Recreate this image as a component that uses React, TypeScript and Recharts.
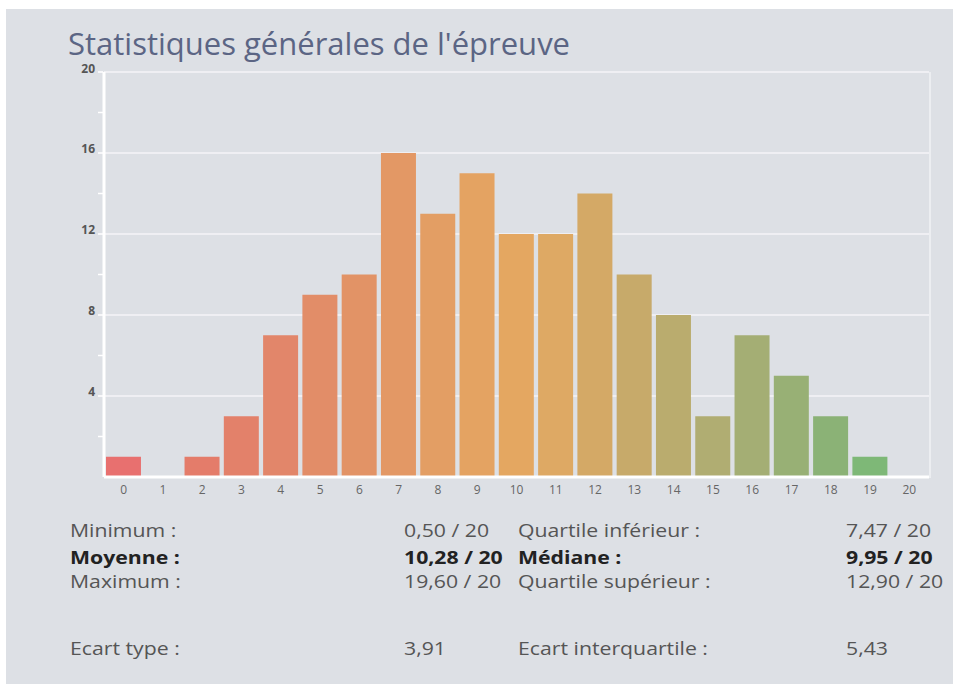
import React from 'react';
import { BarChart, Bar, XAxis, YAxis, CartesianGrid, Cell } from 'recharts';

const notes = ['0', '1', '2', '3', '4', '5', '6', '7', '8', '9', '10', '11', '12', '13', '14', '15', '16', '17', '18', '19', '20'];
const effectifs = [1, 0, 1, 3, 7, 9, 10, 16, 13, 15, 12, 12, 14, 10, 8, 3, 7, 5, 3, 1, 0];
const barColors = [
  '#e8706f', '#e6766c', '#e47c6a', '#e3816a', '#e2866a', '#e28d68', '#e29366',
  '#e39865', '#e39e64', '#e4a362', '#e4a761', '#dea964', '#d4a966', '#c7aa6a',
  '#baac6e', '#b0ad72', '#a4ae74', '#98b075', '#8bb276', '#7eb877', '#7eb877',
];
const yTicks = [2, 4, 6, 8, 10, 12, 14, 16, 18, 20];
const gridValues = [4, 8, 12, 16, 20];

const statsLeft = [
  { label: 'Minimum :', value: '0,50 / 20', bold: false },
  { label: 'Moyenne :', value: '10,28 / 20', bold: true },
  { label: 'Maximum :', value: '19,60 / 20', bold: false },
  { label: 'Ecart type :', value: '3,91', bold: false },
];
const statsRight = [
  { label: 'Quartile inférieur :', value: '7,47 / 20', bold: false },
  { label: 'Médiane :', value: '9,95 / 20', bold: true },
  { label: 'Quartile supérieur :', value: '12,90 / 20', bold: false },
  { label: 'Ecart interquartile :', value: '5,43', bold: false },
];
const rowTops = [518, 545, 569, 636];

const data = notes.map((n, i) => ({ note: n, effectif: effectifs[i] }));

const font = '"Open Sans", "Noto Sans", sans-serif';

const YTick = (props: any) => {
  const { x, y, payload } = props;
  const major = payload.value % 4 === 0;
  return (
    <g>
      <line x1={x + 2} x2={x + 7} y1={y} y2={y} stroke="#ffffff" strokeWidth={1.5} />
      {major && (
        <text x={x - 1} y={y} dy={payload.value === 20 ? 1 : 0} textAnchor="end" fill="#555" fontSize={12} fontWeight={700} fontFamily={font}>
          {payload.value}
        </text>
      )}
    </g>
  );
};

const StatText = ({ left, top, text, bold }: { left: number; top: number; text: string; bold: boolean }) => (
  <div
    style={{
      position: 'absolute',
      left,
      top,
      fontFamily: font,
      fontSize: 18,
      color: bold ? '#222' : '#555',
      fontWeight: bold ? 700 : 400,
      whiteSpace: 'nowrap',
      transform: 'scaleX(1.18)',
      transformOrigin: 'left center',
    }}
  >
    {text}
  </div>
);

export default function App() {
  return (
    <div style={{ position: 'absolute', left: 0, top: 0, width: 953, height: 684, background: '#ffffff', overflow: 'hidden' }}>
      <div style={{ position: 'absolute', left: 6, top: 9, width: 947, height: 675, background: '#dde0e5' }} />
      <div
        style={{
          position: 'absolute',
          left: 68,
          top: 30,
          fontFamily: font,
          fontSize: 31,
          lineHeight: '26px',
          color: '#5b6584',
          whiteSpace: 'nowrap',
        }}
      >
        Statistiques générales de l'épreuve
      </div>
      <div style={{ position: 'absolute', left: 0, top: 0 }}>
        <BarChart
          width={953}
          height={505}
          data={data}
          margin={{ top: 72, right: 24, left: 74, bottom: 0 }}
          barCategoryGap="5%"
        >
          <CartesianGrid
            vertical={false}
            horizontalValues={gridValues}
            stroke="#f4f5f7"
            strokeWidth={1.5}
          />
          <XAxis
            dataKey="note"
            axisLine={{ stroke: '#ffffff', strokeWidth: 3 }}
            tickLine={false}
            tick={{ fill: '#666', fontSize: 12, fontFamily: font }}
            height={28}
            interval={0}
          />
          <YAxis
            domain={[0, 20]}
            ticks={yTicks}
            width={30}
            axisLine={{ stroke: '#ffffff', strokeWidth: 3 }}
            tickLine={false}
            tick={<YTick />}
            interval={0}
          />
          <Bar dataKey="effectif" isAnimationActive={false}>
            {data.map((d, i) => (
              <Cell key={d.note} fill={barColors[i]} />
            ))}
          </Bar>
        </BarChart>
      </div>
      <div style={{ position: 'absolute', left: 929, top: 72, width: 2, height: 406, background: '#eceef1' }} />
      {statsLeft.map((s, i) => (
        <React.Fragment key={s.label}>
          <StatText left={70} top={rowTops[i]} text={s.label} bold={s.bold} />
          <StatText left={404} top={rowTops[i]} text={s.value} bold={s.bold} />
        </React.Fragment>
      ))}
      {statsRight.map((s, i) => (
        <React.Fragment key={s.label}>
          <StatText left={518} top={rowTops[i]} text={s.label} bold={s.bold} />
          <StatText left={846} top={rowTops[i]} text={s.value} bold={s.bold} />
        </React.Fragment>
      ))}
    </div>
  );
}
